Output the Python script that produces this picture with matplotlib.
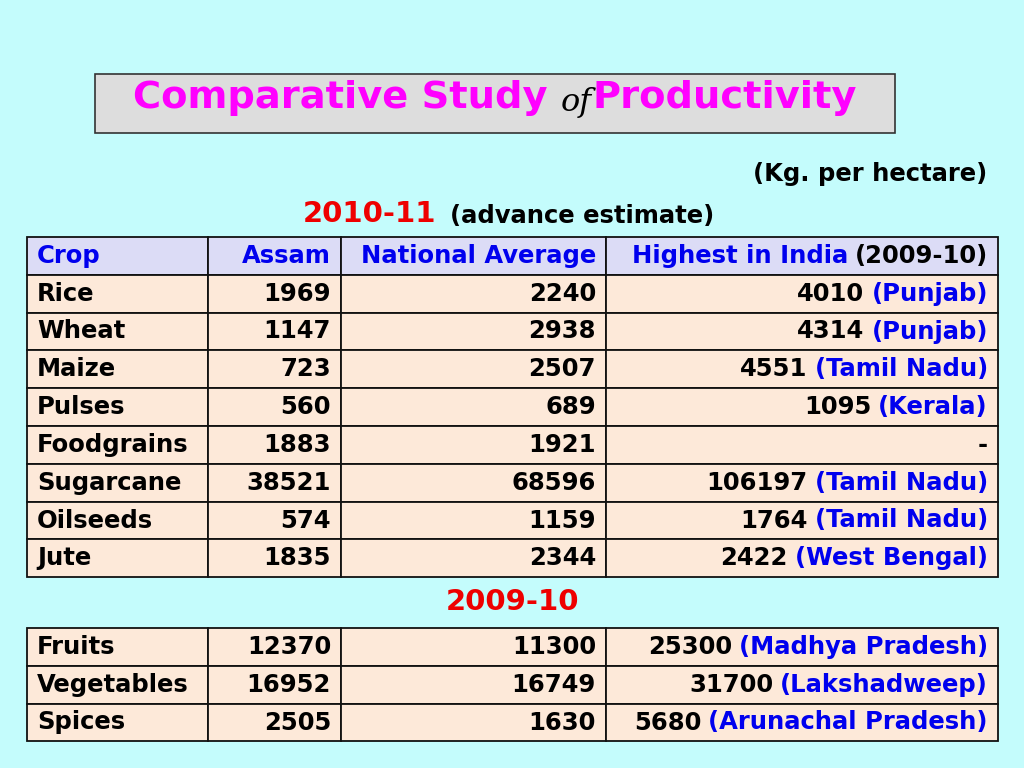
import matplotlib
matplotlib.use("Agg")
import matplotlib.pyplot as plt
from matplotlib.patches import Rectangle

# table data (Kg. per hectare)
header = ["Crop", "Assam", "National Average", "Highest in India"]
crops_1011 = ["Rice", "Wheat", "Maize", "Pulses", "Foodgrains",
              "Sugarcane", "Oilseeds", "Jute"]
assam_1011 = [1969, 1147, 723, 560, 1883, 38521, 574, 1835]
national_1011 = [2240, 2938, 2507, 689, 1921, 68596, 1159, 2344]
highest_1011 = [4010, 4314, 4551, 1095, None, 106197, 1764, 2422]
state_1011 = ["Punjab", "Punjab", "Tamil Nadu", "Kerala", None,
              "Tamil Nadu", "Tamil Nadu", "West Bengal"]

crops_0910 = ["Fruits", "Vegetables", "Spices"]
assam_0910 = [12370, 16952, 2505]
national_0910 = [11300, 16749, 1630]
highest_0910 = [25300, 31700, 5680]
state_0910 = ["Madhya Pradesh", "Lakshadweep", "Arunachal Pradesh"]

BG = "#c4fcfc"
CELL = "#fde9d9"
HEAD = "#dcdcf6"
BLUE = "#0000ee"
FONT = "DejaVu Sans"
FS = 17.5

col_x = [27, 208, 341, 606, 998]
row_h = 37.8
pad = 10

fig = plt.figure(figsize=(10.24, 7.68), dpi=100)
fig.patch.set_facecolor(BG)
ax = fig.add_axes([0, 0, 1, 1])
ax.set_xlim(0, 1024)
ax.set_ylim(768, 0)
ax.axis("off")

# title box
ax.add_patch(Rectangle((95, 74), 800, 59, facecolor="#dddddd",
                       edgecolor="#333333", lw=1.2))
t1 = ax.text(133, 98, "Comparative Study ", fontsize=27.6, fontweight="bold",
             color="#ff00ff", family=FONT, va="center", ha="left")
fig.canvas.draw()
x_of = t1.get_window_extent().x1
t2 = ax.text(x_of, 103, "of", fontsize=23, style="italic", family="DejaVu Serif",
             color="black", va="center", ha="left")
fig.canvas.draw()
ax.text(t2.get_window_extent().x1 + 1, 98, "Productivity", fontsize=27.6,
        fontweight="bold", color="#ff00ff", family=FONT, va="center", ha="left")

ax.text(987, 174, "(Kg. per hectare)", fontsize=17.5, fontweight="bold",
        family=FONT, ha="right", va="center")

s1 = ax.text(303, 214, "2010-11", fontsize=21, fontweight="bold",
             color="#ee0000", family=FONT, ha="left", va="center")
fig.canvas.draw()
ax.text(s1.get_window_extent().x1 + 14, 216, "(advance estimate)", fontsize=17.5,
        fontweight="bold", family=FONT, ha="left", va="center")

ax.text(512, 602, "2009-10", fontsize=21, fontweight="bold",
        color="#ee0000", family=FONT, ha="center", va="center")


def cell_box(y, fill):
    for i in range(4):
        ax.add_patch(Rectangle((col_x[i], y), col_x[i + 1] - col_x[i], row_h,
                               facecolor=fill, edgecolor="#111111", lw=1.3))


def put_row(y, crop, assam, nat, high, state):
    yc = y + row_h / 2
    kw = dict(fontsize=FS, fontweight="bold", family=FONT, va="center")
    ax.text(col_x[0] + pad, yc, crop, ha="left", **kw)
    ax.text(col_x[2] - pad, yc, str(assam), ha="right", **kw)
    ax.text(col_x[3] - pad, yc, str(nat), ha="right", **kw)
    if high is None:
        ax.text(col_x[4] - pad, yc, "-", ha="right", **kw)
    else:
        st = ax.text(col_x[4] - pad, yc, "(" + state + ")", ha="right",
                     color=BLUE, **kw)
        fig.canvas.draw()
        x0 = st.get_window_extent().x0
        ax.text(x0 - 7, yc, str(high), ha="right", **kw)


# header
y0 = 237
cell_box(y0, HEAD)
yc = y0 + row_h / 2
hk = dict(fontsize=FS, fontweight="bold", family=FONT, va="center")
ax.text(col_x[0] + pad, yc, header[0], ha="left", color=BLUE, **hk)
ax.text(col_x[2] - pad, yc, header[1], ha="right", color=BLUE, **hk)
ax.text(col_x[3] - pad, yc, header[2], ha="right", color=BLUE, **hk)
hy = ax.text(col_x[4] - pad, yc, "(2009-10)", ha="right", color="black", **hk)
fig.canvas.draw()
ax.text(hy.get_window_extent().x0 - 7, yc, header[3], ha="right", color=BLUE, **hk)

for k in range(len(crops_1011)):
    y = y0 + row_h * (k + 1)
    cell_box(y, CELL)
    put_row(y, crops_1011[k], assam_1011[k], national_1011[k],
            highest_1011[k], state_1011[k])

y1 = 628
for k in range(len(crops_0910)):
    y = y1 + row_h * k
    cell_box(y, CELL)
    put_row(y, crops_0910[k], assam_0910[k], national_0910[k],
            highest_0910[k], state_0910[k])

fig.savefig("out.png", dpi=100, facecolor=BG)
